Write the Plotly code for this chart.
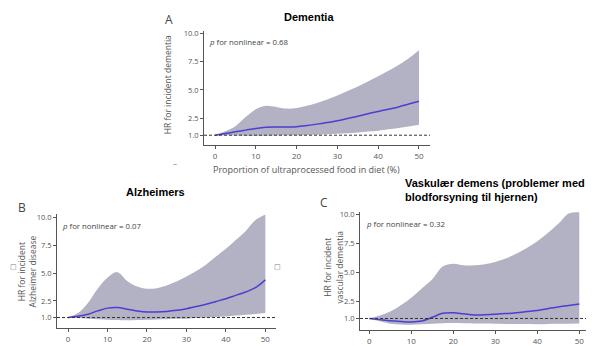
import plotly.graph_objects as go

W, H = 592, 346

# ---- data ----
x_pts = [0, 2.5, 5, 7.5, 10, 12.5, 15, 17.5, 20, 22.5, 25, 27.5, 30, 32.5, 35, 37.5, 40, 42.5, 45, 47.5, 50]

# A: Dementia
a_hr = [1.0, 1.15, 1.3, 1.45, 1.6, 1.7, 1.72, 1.73, 1.75, 1.85, 1.98, 2.12, 2.28, 2.48, 2.68, 2.9, 3.1, 3.3, 3.5, 3.75, 4.0]
a_hi = [1.0, 1.35, 1.8, 2.6, 3.3, 3.6, 3.5, 3.35, 3.4, 3.6, 3.85, 4.15, 4.5, 4.9, 5.3, 5.75, 6.2, 6.7, 7.2, 7.8, 8.5]
a_lo = [1.0, 1.0, 0.98, 0.96, 0.95, 0.96, 0.97, 0.99, 1.0, 1.03, 1.05, 1.08, 1.12, 1.18, 1.25, 1.32, 1.4, 1.52, 1.63, 1.77, 1.92]

# B: Alzheimers
b_hr = [1.0, 1.12, 1.3, 1.6, 1.85, 1.9, 1.75, 1.6, 1.5, 1.5, 1.55, 1.65, 1.8, 2.0, 2.2, 2.45, 2.7, 3.0, 3.3, 3.7, 4.4]
b_hi = [1.0, 1.4, 2.3, 3.6, 4.6, 5.1, 4.3, 3.8, 3.6, 3.65, 3.9, 4.25, 4.7, 5.2, 5.8, 6.5, 7.2, 8.0, 8.8, 9.8, 10.3]
b_lo = [1.0, 0.95, 0.9, 0.84, 0.8, 0.77, 0.75, 0.77, 0.8, 0.83, 0.85, 0.88, 0.9, 0.95, 1.0, 1.05, 1.1, 1.18, 1.25, 1.32, 1.4]

# C: Vascular dementia
c_hr = [1.0, 0.9, 0.8, 0.74, 0.7, 0.78, 1.1, 1.45, 1.5, 1.4, 1.3, 1.32, 1.36, 1.42, 1.5, 1.6, 1.7, 1.85, 2.0, 2.12, 2.25]
c_hi = [1.0, 1.25, 1.6, 2.15, 2.8, 3.6, 4.4, 5.5, 5.75, 5.6, 5.6, 5.7, 5.9, 6.2, 6.6, 7.1, 7.7, 8.4, 9.2, 10.1, 10.2]
c_lo = [1.0, 0.75, 0.55, 0.48, 0.45, 0.5, 0.55, 0.58, 0.6, 0.58, 0.57, 0.56, 0.55, 0.53, 0.52, 0.51, 0.5, 0.52, 0.54, 0.55, 0.56]

x_ticks = [0, 10, 20, 30, 40, 50]
y_ticks = [1.0, 2.5, 5.0, 7.5, 10.0]
y_tick_text = ["1.0", "2.5", "5.0", "7.5", "10.0"]

titles = ["Dementia", "Alzheimers", "Vaskulær demens (problemer med<br>blodforsyning til hjernen)"]
letters = ["A", "B", "C"]
p_texts = ["0.68", "0.07", "0.32"]
y_titles = ["HR for incident dementia", "HR for incident<br>Alzheimer disease", "HR for incident<br>vascular dementia"]
x_title = "Proportion of ultraprocessed food in diet (%)"

BAND = "#b3b2c4"
LINE = "#4a3fd0"
AX = "#555555"
TXT = "#555555"

def px(x):
    return x / W

def py(y):
    return 1 - y / H

# panel geometry (pixels): x-axis left/right, y bottom/top, data ranges
panels = [
    dict(xd=[px(204), px(430)], yd=[py(145), py(29)], xr=[-2.7, 52.7], yr=[0.13, 10.17]),
    dict(xd=[px(57), px(276)], yd=[py(332), py(215)], xr=[-2.8, 52.7], yr=[0.03, 10.38]),
    dict(xd=[px(360), px(586)], yd=[py(334), py(213)], xr=[-2.2, 51.6], yr=[-0.02, 10.25]),
]

data = [(a_hr, a_hi, a_lo), (b_hr, b_hi, b_lo), (c_hr, c_hi, c_lo)]

fig = go.Figure()
layout = dict(
    width=W, height=H, margin=dict(l=0, r=0, t=0, b=0),
    paper_bgcolor="white", plot_bgcolor="white", showlegend=False,
    font=dict(family="Open Sans", color=TXT, size=8),
)

for i, (p, (hr, hi, lo)) in enumerate(zip(panels, data)):
    n = "" if i == 0 else str(i + 1)
    xa, ya = "x" + n, "y" + n
    fig.add_trace(go.Scatter(x=x_pts, y=lo, mode="lines", line=dict(width=0, shape="spline"),
                             xaxis=xa, yaxis=ya, hoverinfo="skip"))
    fig.add_trace(go.Scatter(x=x_pts, y=hi, mode="lines", line=dict(width=0, shape="spline"),
                             fill="tonexty", fillcolor=BAND, xaxis=xa, yaxis=ya, hoverinfo="skip"))
    fig.add_trace(go.Scatter(x=x_pts, y=hr, mode="lines", line=dict(width=1.5, color=LINE, shape="spline"),
                             xaxis=xa, yaxis=ya))
    layout["xaxis" + n] = dict(
        domain=p["xd"], range=p["xr"], anchor=ya, tickvals=x_ticks, ticks="outside", ticklen=3,
        tickcolor=AX, showline=True, linecolor=AX, linewidth=1, showgrid=False, zeroline=False,
        tickfont=dict(size=8, color=TXT, family="Open Sans"), fixedrange=True,
    )
    layout["yaxis" + n] = dict(
        domain=p["yd"], range=p["yr"], anchor=xa, tickvals=y_ticks, ticktext=y_tick_text,
        ticks="outside", ticklen=3, tickcolor=AX, showline=True, linecolor=AX, linewidth=1,
        showgrid=False, zeroline=False, tickfont=dict(size=7.5, color=TXT, family="Open Sans"),
        fixedrange=True,
    )
    fig.add_shape(type="line", xref=xa + " domain", yref=ya, x0=0, x1=1, y0=1, y1=1,
                  line=dict(color="#333333", width=1, dash="3px,2px"))

fig.update_layout(**layout)

ann = []
# titles
ann.append(dict(text="<b>" + titles[0] + "</b>", x=px(309), y=py(14), xanchor="center", yanchor="middle"))
ann.append(dict(text="<b>" + titles[1] + "</b>", x=px(155), y=py(193), xanchor="center", yanchor="middle"))
ann.append(dict(text="<b>" + titles[2] + "</b>", x=px(403), y=py(191), xanchor="left", yanchor="middle", align="left"))
for a in ann:
    a.update(xref="paper", yref="paper", showarrow=False,
             font=dict(family="Liberation Sans", size=11, color="black"))

letter_pos = [(169, 17), (22, 209), (324, 204)]
for L, (lx, ly) in zip(letters, letter_pos):
    ann.append(dict(text=L, x=px(lx), y=py(ly), xref="paper", yref="paper", showarrow=False,
                    xanchor="center", yanchor="middle", font=dict(family="Open Sans", size=12, color="#444444")))

p_pos = [(207, 40), (60, 228), (364, 226)]
for t, (tx, ty) in zip(p_texts, p_pos):
    ann.append(dict(text="<i>p</i> for nonlinear = " + t, x=px(tx), y=py(ty), xref="paper", yref="paper",
                    showarrow=False, xanchor="left", yanchor="middle",
                    font=dict(family="Open Sans", size=7.8, color="#444444")))

yt_pos = [(167, 84), (27, 274), (333, 270)]
for t, (tx, ty) in zip(y_titles, yt_pos):
    ann.append(dict(text=t, x=px(tx), y=py(ty), xref="paper", yref="paper", showarrow=False,
                    textangle=-90, xanchor="center", yanchor="middle",
                    font=dict(family="Open Sans", size=8.5, color="#555555")))

ann.append(dict(text=x_title, x=px(306), y=py(170), xref="paper", yref="paper", showarrow=False,
                xanchor="center", yanchor="middle", font=dict(family="Open Sans", size=9, color="#555555")))
ann.append(dict(text="–", x=px(171), y=py(163), xref="paper", yref="paper", showarrow=False,
                font=dict(family="Open Sans", size=8, color="#666666")))
for bx in (8, 277):
    ann.append(dict(text="□", x=px(bx), y=py(276), xref="paper", yref="paper", showarrow=False,
                    font=dict(family="DejaVu Sans", size=7, color="#777777")))

fig.update_layout(annotations=ann)
fig.write_html("out.html", config={"displayModeBar": False})

# remove the default browser body margin so the figure sits at the page origin
with open("out.html", "r", encoding="utf-8") as f:
    html = f.read()
html = html.replace("<body>", '<body style="margin:0;padding:0;overflow:hidden">', 1)
with open("out.html", "w", encoding="utf-8") as f:
    f.write(html)
